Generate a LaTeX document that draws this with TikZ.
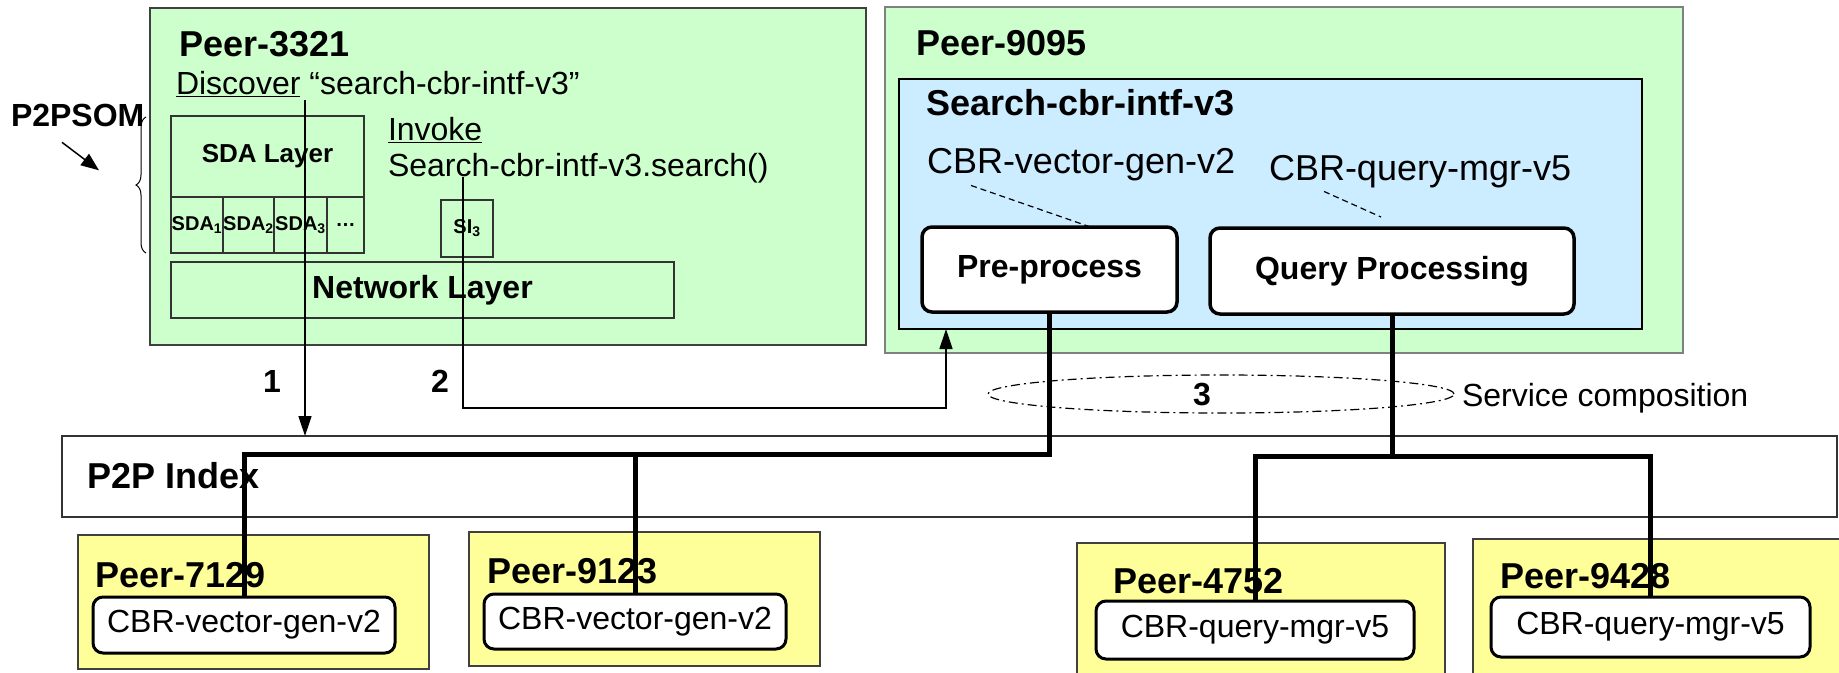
\documentclass[tikz,border=0pt]{standalone}
\usepackage{fontspec}
\setmainfont{Liberation Sans}
\usetikzlibrary{arrows.meta,calc,positioning,shapes.geometric,decorations.pathreplacing}

\definecolor{peergreen}{HTML}{CCFFCC}
\definecolor{svcblue}{HTML}{CCECFF}
\definecolor{peeryellow}{HTML}{FFFF99}

\newcommand{\hdfont}{\fontsize{36}{40}\selectfont\bfseries}
\newcommand{\mdfont}{\fontsize{36}{40}\selectfont}
\newcommand{\lbfont}{\fontsize{32}{36}\selectfont}
\newcommand{\bdfont}{\fontsize{32}{36}\selectfont\bfseries}
\newcommand{\sdfont}{\fontsize{26}{30}\selectfont\bfseries}
\newcommand{\smfont}{\fontsize{20}{22}\selectfont\bfseries}

\begin{document}
\begin{tikzpicture}[
        x=1pt, y=-1pt,
        every node/.style={inner sep=0pt, outer sep=0pt, color=black},
        box/.style={draw, rectangle, anchor=north west},
        peer/.style={box, draw=black!75, line width=1.5pt, fill=peergreen},
        far peer/.style={box, draw=black!75, line width=1.5pt, fill=peeryellow},
        svc/.style={box, line width=2pt, fill=svcblue},
        layer/.style={box, draw=black!80, line width=1.2pt},
        cell/.style={layer, minimum height=56pt, font=\smfont},
        part/.style={box, line width=3.5pt, fill=white, rounded corners=10pt},
        flow/.style={line width=1.5pt, -{Triangle[length=20pt,width=13pt]}},
        bus/.style={line width=5pt},
        link/.style={line width=1.2pt, dash pattern=on 6pt off 4pt},
        lbl/.style={anchor=base west, font=\lbfont},
        hd/.style={anchor=base west, font=\hdfont}
    ]
    \useasboundingbox (0,0) rectangle (1839,672);

    % Peer-3321
    \node[peer, minimum width=716pt, minimum height=337pt] (p3321) at (150,8) {};
    \node[hd] (t3321) at (179,56) {Peer-3321};
    \node[lbl] (disc) at (176,94) {\underline{Discover} “search-cbr-intf-v3”};
    \node[anchor=base west, font=\bdfont] (som) at (11,126) {P2PSOM};
    \node[layer, line width=2pt, minimum width=193pt, minimum height=81pt, font=\sdfont] (sdal) at (171,116) {SDA Layer};
    \node[cell, minimum width=52pt] (sda1) at (sdal.south west) {SDA\textsubscript{1}};
    \node[cell, minimum width=51pt, right=0pt of sda1] (sda2) {SDA\textsubscript{2}};
    \node[cell, minimum width=53pt, right=0pt of sda2] (sda3) {SDA\textsubscript{3}};
    \node[cell, minimum width=37pt, right=0pt of sda3] (sdan) {…};
    \draw[decorate, decoration={brace, amplitude=10pt}, line width=1pt] (146,253) -- (146,117);
    \node[lbl] (invoke) at (388,140) {\underline{Invoke}};
    \node[lbl] (call) at (388,176) {Search-cbr-intf-v3.search()};
    \node[layer, minimum width=52pt, minimum height=57pt, font=\smfont] (si3) at (441,200) {SI\textsubscript{3}};
    \node[layer, minimum width=503pt, minimum height=56pt, font=\bdfont] (net) at (171,262) {Network Layer};

    % Peer-9095
    \node[peer, draw=black!50, line width=1.2pt, minimum width=798pt, minimum height=346pt] (p9095) at (885,7) {};
    \node[hd] (t9095) at (916,55) {Peer-9095};
    \node[svc, minimum width=743pt, minimum height=250pt] (srch) at (899,79) {};
    \node[hd] (tsrch) at (926,115) {Search-cbr-intf-v3};
    \node[lbl, font=\mdfont] (vgen) at (927,173) {CBR-vector-gen-v2};
    \node[lbl, font=\mdfont] (qmgr) at (1269,180) {CBR-query-mgr-v5};
    \node[part, minimum width=255pt, minimum height=85pt, font=\bdfont] (pre) at (922,227) {Pre-process};
    \node[part, minimum width=364pt, minimum height=86pt, font=\bdfont] (qp) at (1210,228) {Query Processing};

    % composition
    \node[draw, ellipse, minimum width=466pt, minimum height=38pt, line width=1.2pt,
          dash pattern=on 9pt off 4pt on 2pt off 4pt] (comp) at (1221,394) {};
    \node[font=\bdfont] (n3) at (1202,395) {3};
    \node[lbl] (svccomp) at (1462,406) {Service composition};
    \node[font=\bdfont] (n1) at (272,381) {1};
    \node[font=\bdfont] (n2) at (440,381) {2};

    % P2P index
    \node[box, draw=black!80, line width=1.2pt, fill=white, minimum width=1775pt, minimum height=81pt] (index) at (62,436) {};
    \node[hd] (tidx) at (87,488) {P2P Index};

    % other peers
    \node[far peer, minimum width=351pt, minimum height=134pt] (p7129) at (78,535) {};
    \node[hd] (t7129) at (95,587) {Peer-7129};
    \node[part, line width=3pt, minimum width=302pt, minimum height=56pt, font=\lbfont] (v1) at (93,597) {CBR-vector-gen-v2};
    \node[far peer, minimum width=351pt, minimum height=134pt] (p9123) at (469,532) {};
    \node[hd] (t9123) at (487,583) {Peer-9123};
    \node[part, line width=3pt, minimum width=302pt, minimum height=55pt, font=\lbfont] (v2) at (484,594) {CBR-vector-gen-v2};
    \node[far peer, minimum width=368pt, minimum height=140pt] (p4752) at (1077,543) {};
    \node[hd] (t4752) at (1113,593) {Peer-4752};
    \node[part, line width=3pt, minimum width=318pt, minimum height=58pt, font=\lbfont] (q1) at (1096,601) {CBR-query-mgr-v5};
    \node[far peer, minimum width=372pt, minimum height=144pt] (p9428) at (1473,539) {};
    \node[hd] (t9428) at (1500,588) {Peer-9428};
    \node[part, line width=3pt, minimum width=319pt, minimum height=60pt, font=\lbfont] (q2) at (1491,597) {CBR-query-mgr-v5};

    % connectors
    \coordinate (dsc) at (305,100);
    \coordinate (inv) at (463,177);
    \coordinate (ret) at (946,408);
    \draw[flow] (dsc) -- (dsc |- index.north);
    \draw[flow] (inv) |- (ret) -- (ret |- srch.south);
    \draw[flow, -{Triangle[length=18pt,width=14pt]}] ($(som.south west)+(51,16)$) -- ++(37,28);
    \draw[link] ($(vgen.south)+(-110,5)$) -- ($(pre.north)+(41,0)$);
    \draw[link] ($(qmgr.south)+(-96,4)$) -- ($(qp.north)+(-11,-11)$);
    \coordinate (vbus) at (0,454);
    \coordinate (qbus) at (0,456);
    \draw[bus] (pre.south) -- (pre.south |- vbus) -| (v1.north);
    \draw[bus] (v2.north) -- (v2.north |- vbus);
    \draw[bus] (qp.south) -- (qp.south |- qbus) -| (q1.north);
    \draw[bus] (qp.south |- qbus) -| (q2.north);
\end{tikzpicture}
\end{document}
